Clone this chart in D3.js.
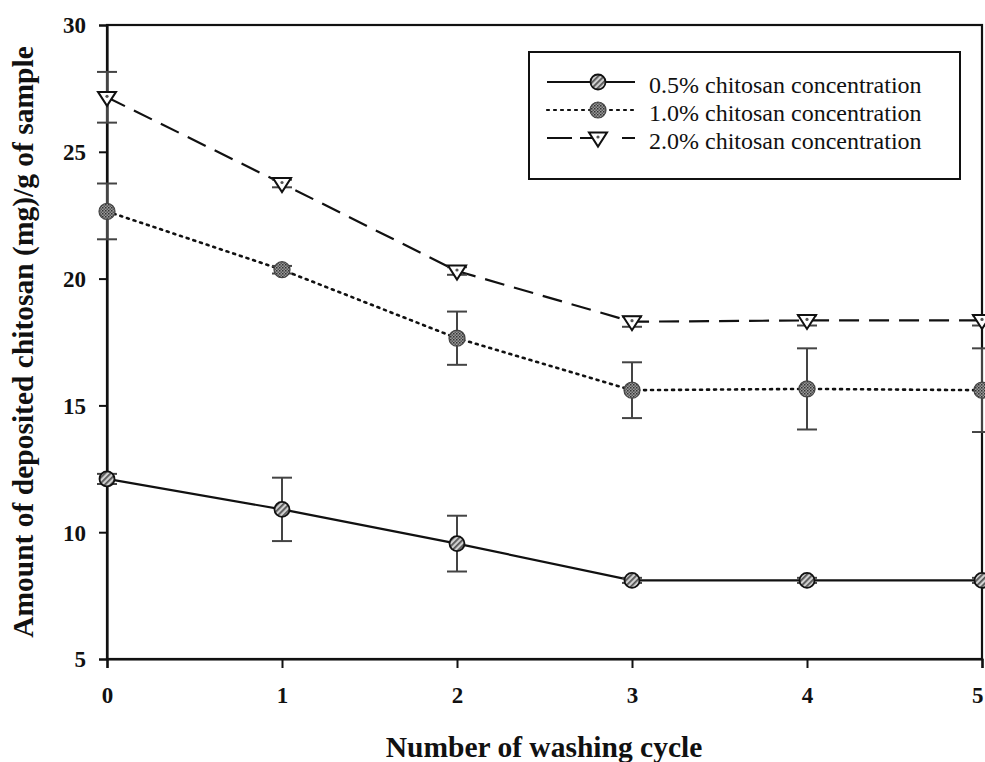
<!DOCTYPE html>
<html>
<head>
<meta charset="utf-8">
<script src="https://cdn.jsdelivr.net/npm/d3@7"></script>
<style>
  html, body { margin: 0; padding: 0; background: #fff; }
  svg { display: block; }
</style>
</head>
<body>
<svg id="chart" width="985" height="762"></svg>
<script>
// ---- data ----
const cycles = [0, 1, 2, 3, 4, 5];
const xTicks = [0, 1, 2, 3, 4, 5];
const yTicks = [5, 10, 15, 20, 25, 30];
const seriesNames = ["0.5% chitosan concentration", "1.0% chitosan concentration", "2.0% chitosan concentration"];
const conc05 = [12.1, 10.9, 9.55, 8.1, 8.1, 8.1];
const err05  = [0.2, 1.25, 1.1, 0.1, 0.1, 0.1];
const conc10 = [22.65, 20.35, 17.65, 15.6, 15.65, 15.6];
const err10  = [1.1, 0.15, 1.05, 1.1, 1.6, 1.65];
const conc20 = [27.15, 23.75, 20.3, 18.3, 18.35, 18.35];
const err20  = [1.0, 0.15, 0.15, 0.2, 0.2, 0.2];
const xTitle = "Number of washing cycle";
const yTitle = "Amount of deposited chitosan (mg)/g of sample";

// ---- layout ----
const svg = d3.select("#chart");
const L = 107, R = 982, T = 25, B = 659;
const x = d3.scaleLinear().domain([0, 5]).range([L, R]);
const y = d3.scaleLinear().domain([5, 30]).range([B, T]);
const serif = "'Liberation Serif', 'Times New Roman', serif";

// patterns
const defs = svg.append("defs");
const p1 = defs.append("pattern").attr("id", "hatch05").attr("patternUnits", "userSpaceOnUse")
  .attr("width", 4).attr("height", 4).attr("patternTransform", "rotate(45)");
p1.append("rect").attr("width", 4).attr("height", 4).attr("fill", "#d0d0d0");
p1.append("rect").attr("width", 1.8).attr("height", 4).attr("fill", "#555");
const p2 = defs.append("pattern").attr("id", "hatch10").attr("patternUnits", "userSpaceOnUse")
  .attr("width", 3).attr("height", 3);
p2.append("rect").attr("width", 3).attr("height", 3).attr("fill", "#9a9a9a");
p2.append("rect").attr("width", 1.5).attr("height", 1.5).attr("fill", "#333");
p2.append("rect").attr("x", 1.5).attr("y", 1.5).attr("width", 1.5).attr("height", 1.5).attr("fill", "#555");

const series = [
  { name: seriesNames[0], values: conc05, errs: err05, dash: null, marker: "circle05" },
  { name: seriesNames[1], values: conc10, errs: err10, dash: "2,5", marker: "circle10" },
  { name: seriesNames[2], values: conc20, errs: err20, dash: "20,10", marker: "tri" }
];

function drawMarker(g, type, cx, cy) {
  if (type === "circle05") {
    g.append("circle").attr("cx", cx).attr("cy", cy).attr("r", 7.5)
      .attr("fill", "url(#hatch05)").attr("stroke", "#111").attr("stroke-width", 1.8);
  } else if (type === "circle10") {
    g.append("circle").attr("cx", cx).attr("cy", cy).attr("r", 8)
      .attr("fill", "url(#hatch10)").attr("stroke", "#444").attr("stroke-width", 1.2);
  } else {
    const s = 9;
    g.append("path")
      .attr("d", `M${cx - s},${cy - s * 0.6}L${cx + s},${cy - s * 0.6}L${cx},${cy + s * 0.95}Z`)
      .attr("fill", "#fff").attr("stroke", "#111").attr("stroke-width", 2);
    g.append("circle").attr("cx", cx).attr("cy", cy - 1).attr("r", 1.6).attr("fill", "#555");
  }
}

// frame
svg.append("rect").attr("x", L).attr("y", T).attr("width", R - L).attr("height", B - T)
  .attr("fill", "none").attr("stroke", "#111").attr("stroke-width", 2.2);

// axes ticks
const yAxis = d3.axisLeft(y).tickValues(yTicks).tickSize(8).tickPadding(5).tickFormat(d3.format("d"));
const gy = svg.append("g").attr("transform", `translate(${L},0)`).call(yAxis);
gy.attr("font-family", serif).attr("font-size", 23);
gy.select(".domain").attr("stroke", "#111").attr("stroke-width", 2.2);
gy.selectAll(".tick line").attr("stroke", "#111").attr("stroke-width", 2);
gy.selectAll(".tick text").attr("font-family", serif).attr("font-weight", "bold")
  .attr("font-size", 23).attr("fill", "#111").attr("dy", "0.34em").attr("x", -21);

const xAxis = d3.axisBottom(x).tickValues(xTicks).tickSize(9).tickPadding(12).tickFormat(d3.format("d"));
const gx = svg.append("g").attr("transform", `translate(0,${B})`).call(xAxis);
gx.attr("font-family", serif).attr("font-size", 23);
gx.select(".domain").attr("stroke", "#111").attr("stroke-width", 2.2);
gx.selectAll(".tick line").attr("stroke", "#111").attr("stroke-width", 2);
gx.selectAll(".tick text").attr("font-family", serif).attr("font-weight", "bold")
  .attr("font-size", 23).attr("fill", "#111").attr("dy", "0").attr("y", 44);
gx.selectAll(".tick").filter(d => d === 5).select("text")
  .attr("text-anchor", "end").attr("x", 1).attr("dx", 0);

// lines
const line = d3.line().x((d, i) => x(cycles[i])).y(d => y(d));
series.forEach(s => {
  svg.append("path").datum(s.values).attr("d", line)
    .attr("fill", "none").attr("stroke", "#111")
    .attr("stroke-width", s.dash === "2,5" ? 2.6 : 2.2)
    .attr("stroke-dasharray", s.dash)
    .attr("stroke-linecap", s.dash === "2,5" ? "round" : "butt");
});

// error bars
series.forEach(s => {
  const g = svg.append("g");
  s.values.forEach((v, i) => {
    const cx = x(cycles[i]);
    const e = s.errs[i];
    g.append("line").attr("x1", cx).attr("x2", cx).attr("y1", y(v + e)).attr("y2", y(v - e))
      .attr("stroke", "#444").attr("stroke-width", 2);
    [v + e, v - e].forEach(w => {
      g.append("line").attr("x1", cx - 10).attr("x2", cx + 10).attr("y1", y(w)).attr("y2", y(w))
        .attr("stroke", "#444").attr("stroke-width", 2);
    });
  });
});

// markers
series.forEach(s => {
  const g = svg.append("g");
  s.values.forEach((v, i) => drawMarker(g, s.marker, x(cycles[i]), y(v)));
});

// legend
const lg = svg.append("g");
lg.append("rect").attr("x", 529).attr("y", 52).attr("width", 431).attr("height", 127)
  .attr("fill", "#fff").attr("stroke", "#111").attr("stroke-width", 2);
const rowY = [82, 110, 138];
series.forEach((s, i) => {
  const yy = rowY[i];
  lg.append("line").attr("x1", 547).attr("x2", 635).attr("y1", yy).attr("y2", yy)
    .attr("stroke", "#111").attr("stroke-width", s.dash === "2,5" ? 2.2 : 2)
    .attr("stroke-dasharray", s.dash === "20,10" ? "25,8,12,30,25" : s.dash)
    .attr("stroke-linecap", s.dash === "2,5" ? "round" : "butt");
  drawMarker(lg, s.marker, 598, yy);
  lg.append("text").attr("x", 649).attr("y", yy + 11).text(s.name)
    .attr("font-family", serif).attr("font-size", 24).attr("fill", "#111");
});

// titles
svg.append("text").attr("x", 544).attr("y", 757).attr("text-anchor", "middle")
  .attr("font-family", serif).attr("font-weight", "bold").attr("font-size", 29.5).attr("fill", "#111")
  .text(xTitle);
svg.append("text").attr("transform", `translate(33,342) rotate(-90)`).attr("text-anchor", "middle")
  .attr("font-family", serif).attr("font-weight", "bold").attr("font-size", 29.5).attr("fill", "#111")
  .text(yTitle);
</script>
</body>
</html>
